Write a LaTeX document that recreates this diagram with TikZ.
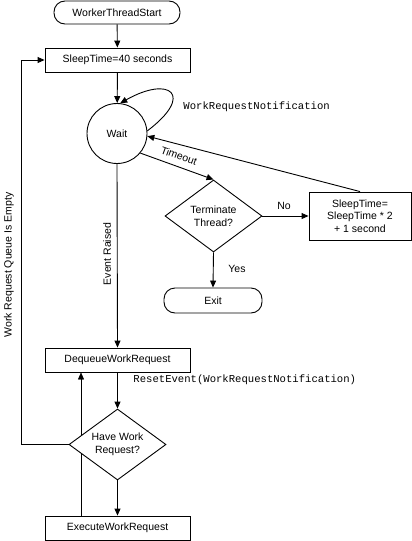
\documentclass[tikz,border=0pt]{standalone}
\usepackage{fontspec}
\setmainfont{Liberation Sans}
\newfontfamily\monofont{Liberation Mono}
\usetikzlibrary{arrows.meta,shapes.geometric,backgrounds}
\begin{document}
\begin{tikzpicture}[x=1pt,y=-1pt,
  font=\fontsize{10.5}{12.5}\selectfont,
  line width=0.9pt,
  every node/.style={inner sep=0pt},
  box/.style={draw, rectangle, fill=white, align=center},
  term/.style={draw, rectangle, rounded corners=11pt, fill=white},
  dec/.style={draw, diamond, aspect=1.35, fill=white, align=center},
  circ/.style={draw, circle, fill=white},
  arr/.style={-{Triangle[length=7pt,width=6pt]}},
  lbl/.style={font=\fontsize{10.5}{12.5}\selectfont},
  mono/.style={font=\monofont\fontsize{10.6}{12.5}\selectfont}]
\useasboundingbox (0,0) rectangle (412,541);

\node[term, minimum width=126pt, minimum height=23pt] (start) at (117,12.5) {WorkerThreadStart};
\node[box, minimum width=145pt, minimum height=24pt] (sleep) at (117.5,60) {SleepTime=40 seconds};
\node[circ, minimum size=60pt] (wait) at (117,133.5) {Wait};
\node[dec, minimum width=97pt, minimum height=72pt] (term) at (213.5,216) {Terminate\\Thread?};
\node[box, minimum width=102pt, minimum height=48pt] (sleep2) at (360,216) {SleepTime=\\SleepTime * 2\\+ 1 second};
\node[term, minimum width=98pt, minimum height=25pt] (exit) at (213,300.5) {Exit};
\node[box, minimum width=145pt, minimum height=24pt] (deq) at (117.5,360) {DequeueWorkRequest};
\node[dec, minimum width=97pt, minimum height=71pt] (have) at (117.5,444.5) {Have Work\\Request?};
\node[box, minimum width=145pt, minimum height=24pt] (exec) at (117.5,528) {ExecuteWorkRequest};

\coordinate (bx) at (81,0);
\coordinate (qx) at (21,0);

\begin{scope}[on background layer]
  \fill[white] (0,0) rectangle (412,541);
  \draw[arr] (exec.north -| bx) -- (deq.south -| bx);
\end{scope}

\draw[arr] (start) -- (sleep);
\draw[arr] (sleep) -- (wait);
\draw[arr] (wait.5) .. controls (195,95) and (170,75) .. (wait.84);
\node[mono, anchor=west] (wrn) at (183,107) {WorkRequestNotification};
\draw[arr] (sleep2.north) -- (wait.-5);
\draw[arr] (wait.-40) -- (term.north);
\node[lbl, rotate=-20] (tmo) at (179,156) {Timeout};
\draw[arr] (term.east) -- (sleep2.west);
\node[lbl] (no) at (284,206) {No};
\draw[arr] (term.south) -- (exit.north);
\node[lbl] (yes) at (237,269) {Yes};
\draw[arr] (wait.south) -- (deq.north);
\node[lbl, rotate=90] (evr) at (107,254) {Event Raised};
\draw[arr] (deq.south) -- (have.north);
\node[mono, anchor=west] (rst) at (133,380) {ResetEvent(WorkRequestNotification)};
\draw[arr] (have.south) -- (exec.north);
\draw[arr] (have.west) -- (have.west -| qx) -- (sleep.west -| qx) -- (sleep.west);
\node[lbl, rotate=90] (wrq) at (9,265) {Work Request Queue Is Empty};
\end{tikzpicture}
\end{document}
